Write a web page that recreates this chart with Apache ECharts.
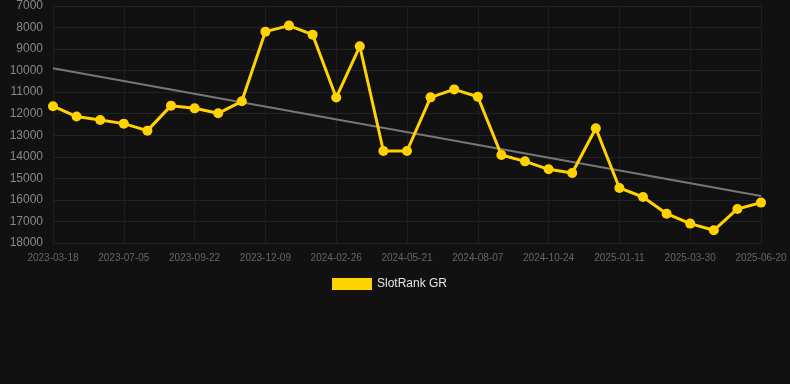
<!DOCTYPE html>
<html>
<head>
<meta charset="utf-8">
<script src="https://cdn.jsdelivr.net/npm/echarts@6/dist/echarts.min.js"></script>
<style>
  html, body { margin: 0; padding: 0; background: #111111; }
  #chart { width: 790px; height: 384px; }
</style>
</head>
<body>
<div id="chart"></div>
<script>
// dates (x axis categories)
const dates = [
  '2023-03-18', '2023-04-23', '2023-05-30', '2023-07-05', '2023-07-31', '2023-08-27',
  '2023-09-22', '2023-10-18', '2023-11-13', '2023-12-09', '2024-01-04', '2024-01-30',
  '2024-02-26', '2024-03-24', '2024-04-22', '2024-05-21', '2024-06-16', '2024-07-12',
  '2024-08-07', '2024-09-02', '2024-09-28', '2024-10-24', '2024-11-19', '2024-12-16',
  '2025-01-11', '2025-02-06', '2025-03-04', '2025-03-30', '2025-04-26', '2025-05-23',
  '2025-06-20'
];
// rank values
const ranks = [
  11650, 12130, 12290, 12460, 12785, 11625,
  11750, 11980, 11425, 8190, 7910, 8330,
  11250, 8870, 13730, 13730, 11240, 10870,
  11210, 13915, 14210, 14580, 14750, 12675,
  15445, 15865, 16640, 17100, 17410, 16420,
  16125
];
const seriesName = 'SlotRank GR';

// least squares trend over the ranks
function trend(vals) {
  let n = vals.length, sx = 0, sy = 0, sxy = 0, sxx = 0;
  vals.forEach((v, i) => { sx += i; sy += v; sxy += i * v; sxx += i * i; });
  let k = (n * sxy - sx * sy) / (n * sxx - sx * sx);
  let b = (sy - k * sx) / n;
  return vals.map((v, i) => (i === 0 || i === n - 1) ? Math.round(k * i + b) : null);
}
const trendData = trend(ranks);

const chart = echarts.init(document.getElementById('chart'));
chart.setOption({
  backgroundColor: '#111111',
  animation: false,
  grid: { left: 53, right: 29, top: 6, bottom: 141, containLabel: false },
  legend: {
    data: [seriesName],
    top: 273,
    left: 327,
    icon: 'rect',
    itemWidth: 40,
    itemHeight: 12,
    itemGap: 6,
    textStyle: { color: '#e6e6e6', fontSize: 12, fontFamily: 'Liberation Sans, Arial, sans-serif' }
  },
  xAxis: {
    type: 'category',
    data: dates,
    boundaryGap: false,
    axisLine: { show: false },
    axisTick: { show: false },
    axisLabel: { interval: 2, color: '#666', fontSize: 10, margin: 10, fontFamily: 'Liberation Sans, Arial, sans-serif' },
    splitLine: { show: true, interval: 2, lineStyle: { color: '#1e1e1e', width: 1 } }
  },
  yAxis: {
    type: 'value',
    inverse: true,
    min: 7000,
    max: 18000,
    interval: 1000,
    axisLine: { show: false },
    axisTick: { show: false },
    axisLabel: {
      color: '#888', fontSize: 12, margin: 10,
      fontFamily: 'Liberation Sans, Arial, sans-serif',
      formatter: v => String(v)
    },
    splitLine: { lineStyle: { color: '#222', width: 1 } }
  },
  series: [
    {
      name: 'trend',
      type: 'line',
      data: trendData,
      connectNulls: true,
      symbol: 'none',
      lineStyle: { color: '#777', width: 2 },
      z: 1
    },
    {
      name: seriesName,
      type: 'line',
      data: ranks,
      symbol: 'circle',
      symbolSize: 10,
      itemStyle: { color: '#FFD200' },
      lineStyle: { color: '#FFD200', width: 3 },
      z: 2
    }
  ]
});
</script>
</body>
</html>
